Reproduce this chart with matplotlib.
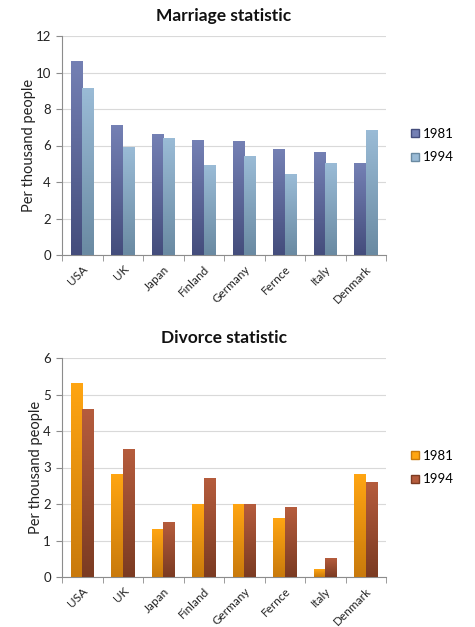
import numpy as np
import matplotlib.pyplot as plt
from matplotlib.colors import LinearSegmentedColormap
from matplotlib.patches import Patch

plt.rcParams['font.family'] = ['Lato', 'DejaVu Sans']

# Data
countries = ['USA', 'UK', 'Japan', 'Finland', 'Germany', 'Fernce', 'Italy', 'Denmark']
years = ['1981', '1994']
marriage_1981 = [10.6, 7.1, 6.6, 6.3, 6.2, 5.8, 5.6, 5.0]
marriage_1994 = [9.1, 5.9, 6.4, 4.9, 5.4, 4.4, 5.0, 6.8]
divorce_1981 = [5.3, 2.8, 1.3, 2.0, 2.0, 1.6, 0.2, 2.8]
divorce_1994 = [4.6, 3.5, 1.5, 2.7, 2.0, 1.9, 0.5, 2.6]

# (top colour, bottom colour) for the excel-ish gradient
marriage_cols = [('#7480b4', '#444d7c'), ('#9abbd6', '#6a8aa2')]
divorce_cols = [('#ffa512', '#c97a0c'), ('#b55c3d', '#7b3b22')]

bw = 0.29


def grad_bars(ax, x, vals, cols):
    bars = ax.bar(x, vals, bw, color='none', edgecolor='none', zorder=3)
    cmap = LinearSegmentedColormap.from_list('g', [cols[1], cols[0]])
    grad = np.linspace(0, 1, 100).reshape(-1, 1)
    for b in bars:
        x0, y0 = b.get_x(), b.get_y()
        w, h = b.get_width(), b.get_height()
        ax.imshow(grad, extent=[x0, x0 + w, y0, y0 + h], origin='lower',
                  cmap=cmap, aspect='auto', zorder=3)
    return bars


def draw(ax, title, s1, s2, cols, ymax, step):
    x = np.arange(len(countries))
    grad_bars(ax, x - bw / 2, s1, cols[0])
    grad_bars(ax, x + bw / 2, s2, cols[1])
    ax.set_xlim(-0.5, len(countries) - 0.5)
    ax.set_ylim(0, ymax)
    ax.set_yticks(np.arange(0, ymax + 0.1, step))
    ax.yaxis.grid(True, color='#d9d9d9', lw=0.8, zorder=0)
    ax.set_axisbelow(True)
    for s in ['top', 'right']:
        ax.spines[s].set_visible(False)
    for s in ['left', 'bottom']:
        ax.spines[s].set_color('#8c8c8c')
    ax.set_xticks(x)
    ax.set_xticklabels(countries, rotation=45, ha='right', rotation_mode='anchor',
                       fontsize=8.5, color='#222222')
    ax.tick_params(axis='x', length=0, pad=6)
    ax.set_xticks(np.arange(-0.5, len(countries)), minor=True)
    ax.tick_params(axis='x', which='minor', length=4, color='#8c8c8c')
    ax.tick_params(axis='y', length=4, color='#8c8c8c', labelsize=9.5,
                   labelcolor='#222222', pad=4)
    ax.set_ylabel('Per thousand people', fontsize=10.5, color='#222222', labelpad=0)
    ax.set_title(title, fontsize=12.5, fontweight='bold', pad=11, color='#111111')
    handles = [Patch(facecolor=cols[0][0], edgecolor=cols[0][1]),
               Patch(facecolor=cols[1][0], edgecolor=cols[1][1])]
    ax.legend(handles, years, loc='center left', bbox_to_anchor=(1.04, 0.5),
              frameon=False, fontsize=9.5, handlelength=0.6, handleheight=0.6,
              handletextpad=0.3, labelspacing=0.9)


fig = plt.figure(figsize=(4.75, 6.27), dpi=100)
ax1 = fig.add_axes([62 / 475, 1 - 255 / 627, 324 / 475, 219 / 627])
ax2 = fig.add_axes([62 / 475, 1 - 577 / 627, 324 / 475, 219 / 627])
draw(ax1, 'Marriage statistic', marriage_1981, marriage_1994, marriage_cols, 12, 2)
draw(ax2, 'Divorce statistic', divorce_1981, divorce_1994, divorce_cols, 6, 1)

fig.savefig('out.png', dpi=100)
